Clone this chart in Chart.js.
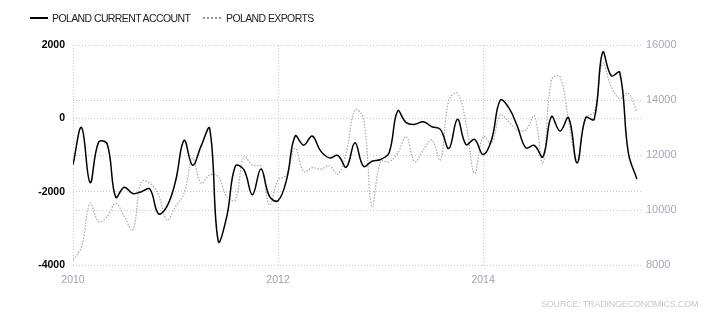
<!DOCTYPE html>
<html>
<head>
<meta charset="utf-8">
<script src="https://cdn.jsdelivr.net/npm/chart.js@4"></script>
<style>
  html, body { margin: 0; padding: 0; background: #fff; }
  #wrap { position: relative; width: 710px; height: 320px; font-family: "Liberation Sans", Arial, sans-serif; }
  #c { position: absolute; left: 0; top: 0; }
  .lg { position: absolute; font-size: 10.5px; color: #222; letter-spacing: -0.6px; top: 12px; white-space: nowrap; }
  .sw { position: absolute; }
  #src { position: absolute; left: 541px; top: 299px; font-size: 9px; color: #c8c8c8; letter-spacing: -0.2px; }
</style>
</head>
<body>
<div id="wrap">
  <canvas id="c" width="710" height="320"></canvas>
  <div class="sw" style="left:30px;top:17px;width:18px;height:2px;background:#000"></div>
  <div class="lg" style="left:52px">POLAND CURRENT ACCOUNT</div>
  <div class="sw" style="left:203px;top:17px;width:18px;border-top:2px dotted #999"></div>
  <div class="lg" style="left:226px">POLAND EXPORTS</div>
  <div id="src">SOURCE: TRADINGECONOMICS.COM</div>
</div>
<script>
// monthly, Jan 2010 .. Jul 2015
const currentAccount = [
  -1260, -250, -1750, -650, -700, -2150, -1880, -2050, -2000, -1930, -2600, -2400,
  -1716, -600, -1280, -750, -280, -3350, -2676, -1300, -1400, -2082, -1380, -2128,
  -2247, -1671, -484, -731, -484, -895, -1078, -1014, -1333, -667, -1306, -1169,
  -1123, -941, 200, -119, -164, -91, -228, -301, -822, -27, -712, -575,
  -986, -575, 493, 292, -210, -804, -740, -1050, 46, -347, 18, -1215,
  18, -27, 1800, 1160, 1250, -941, -1653
];
const exports = [
  8182, 8667, 10242, 9576, 9758, 10242, 9758, 9273, 11030, 10970, 10545, 9636,
  10121, 10606, 11879, 10970, 11273, 11212, 10485, 10364, 11939, 11636, 11576, 10182,
  11091, 11273, 12242, 11394, 11539, 11485, 11600, 11309, 12121, 13636, 13333, 10121,
  11758, 11758, 12061, 12667, 11758, 12182, 12545, 11818, 14000, 14242, 13152, 11333,
  12667, 12424, 13455, 13212, 12909, 12909, 13418, 11697, 14727, 14848, 13273, 11818,
  13333, 13576, 15333, 14485, 14061, 14242, 13576
];
const yearTickIdx = [0, 24, 48];
const yearLabels = ['2010', '2012', '2014'];

const gridStyle = { color: '#c8c8c8', lineWidth: 1, drawTicks: false };

new Chart(document.getElementById('c'), {
  type: 'line',
  data: {
    datasets: [
      {
        label: 'POLAND CURRENT ACCOUNT',
        data: currentAccount.map((v, i) => ({ x: i, y: v })),
        yAxisID: 'y',
        borderColor: '#000',
        borderWidth: 1.5,
        pointRadius: 0,
        tension: 0.4,
        order: 0,
      },
      {
        label: 'POLAND EXPORTS',
        data: exports.map((v, i) => ({ x: i, y: v })),
        yAxisID: 'y1',
        borderColor: '#a8a8a8',
        borderWidth: 1.2,
        borderDash: [1.5, 1.5],
        pointRadius: 0,
        tension: 0.4,
        order: 1,
      },
    ],
  },
  options: {
    responsive: false,
    animation: false,
    devicePixelRatio: 1,
    layout: { padding: { top: 45, left: 0, right: 0, bottom: 0 } },
    plugins: { legend: { display: false }, tooltip: { enabled: false } },
    scales: {
      x: {
        type: 'linear',
        min: 0,
        max: 66.6,
        border: { display: false, dash: [1, 2] },
        grid: gridStyle,
        afterBuildTicks: (s) => { s.ticks = yearTickIdx.map((v) => ({ value: v })); },
        afterFit: (s) => { s.height = 55; },
        ticks: {
          padding: 9,
          color: '#a0a0b0',
          font: { family: 'Liberation Sans', size: 10.5 },
          callback: (v) => yearLabels[yearTickIdx.indexOf(v)],
        },
      },
      y: {
        position: 'left',
        min: -4000,
        max: 2000,
        border: { display: false, dash: [1, 2] },
        grid: gridStyle,
        afterFit: (s) => { s.width = 73; },
        ticks: {
          stepSize: 2000,
          padding: 8,
          color: '#000',
          font: { family: 'Liberation Sans', size: 10.5, weight: 'bold' },
          callback: (v) => String(v),
        },
      },
      y1: {
        position: 'right',
        min: 8000,
        max: 16000,
        border: { display: false, dash: [1, 2] },
        grid: gridStyle,
        afterFit: (s) => { s.width = 68; },
        ticks: {
          stepSize: 2000,
          padding: 4,
          color: '#a8a8b4',
          font: { family: 'Liberation Sans', size: 11 },
          callback: (v) => String(v),
        },
      },
    },
  },
});
</script>
</body>
</html>
